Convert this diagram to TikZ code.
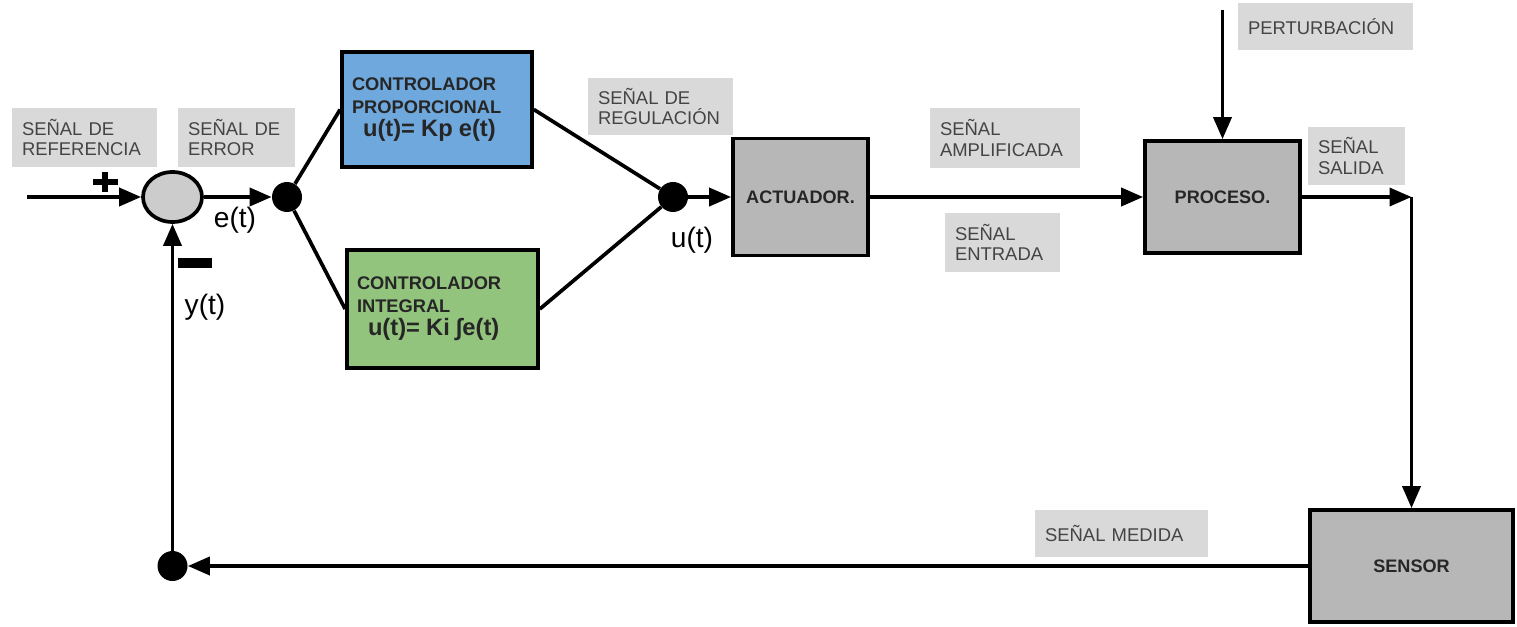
\documentclass[tikz,border=0pt]{standalone}
\usepackage{fontspec}
\setmainfont{Liberation Sans}
\usetikzlibrary{arrows.meta,shapes.geometric}

\definecolor{propblue}{RGB}{111,168,220}
\definecolor{intgreen}{RGB}{147,196,125}
\definecolor{blockgray}{RGB}{183,183,183}
\definecolor{sumgray}{RGB}{204,204,204}
\definecolor{taggray}{RGB}{217,217,217}
\definecolor{tagtext}{RGB}{68,68,68}

\tikzset{
  wire/.style={line width=2.1pt},
  sig/.style={line width=2.1pt,-{Triangle[length=0.44cm,width=0.36cm]}},
  block/.style={draw,line width=2.1pt,fill=blockgray,text=black!85,
    font=\fontsize{10.3}{12}\selectfont\bfseries},
  ctrl/.style={draw,line width=2.1pt,align=left,inner sep=0.2cm,text=black!85,
    font=\fontsize{10.4}{13.2}\selectfont\bfseries},
  tag/.style={fill=taggray,text=tagtext,align=left,inner sep=0.2cm,
    font=\fontsize{10.5}{11.4}\selectfont},
  dot/.style={circle,fill,inner sep=0pt,minimum size=0.6cm},
  var/.style={font=\fontsize{16}{16}\selectfont}
}

\begin{document}
\begin{tikzpicture}
\useasboundingbox (0,0) rectangle (30.34,12.52);

% bloques
\node[draw,ellipse,fill=sumgray,line width=2.1pt,minimum width=1.18cm,minimum height=1.0cm] (sum) at (3.45,8.58) {};
\node[dot] (pt1) at (5.74,8.58) {};
\node[ctrl,fill=propblue,text width=3.4cm,minimum height=2.3cm] (prop) at (8.74,10.33)
  {CONTROLADOR\\PROPORCIONAL\\\hspace*{0.22cm}{\fontsize{13.5}{13}\selectfont u(t)= Kp e(t)}};
\node[ctrl,fill=intgreen,text width=3.42cm,minimum height=2.36cm] (integ) at (8.85,6.34)
  {CONTROLADOR\\INTEGRAL\\\hspace*{0.22cm}{\fontsize{13.5}{13}\selectfont u(t)= Ki ∫e(t)}};
\node[dot] (pt2) at (13.46,8.58) {};
\node[block,minimum width=2.7cm,minimum height=2.34cm] (act) at (16.01,8.58) {ACTUADOR.};
\node[block,minimum width=3.1cm,minimum height=2.24cm] (proc) at (24.45,8.58) {PROCESO.};
\node[block,minimum width=4.06cm,minimum height=2.24cm] (sens) at (28.23,1.2) {SENSOR};
\node[dot] (pt3) at (3.45,1.2) {};

\coordinate (ref) at (0.54,8.58);
\coordinate (pert) at (24.45,12.32);
\coordinate (corner) at (28.23,8.58);

% etiquetas
\node[tag,text width=2.5cm,minimum height=1.18cm] (tref) at (1.69,9.77) {SEÑAL DE\\REFERENCIA};
\node[tag,text width=1.94cm,minimum height=1.18cm] (terr) at (4.73,9.77) {SEÑAL DE\\ERROR};
\node[tag,text width=2.5cm,minimum height=1.14cm] (treg) at (13.21,10.39) {SEÑAL DE\\REGULACIÓN};
\node[tag,text width=2.6cm,minimum height=1.2cm] (tamp) at (20.1,9.76) {SEÑAL\\AMPLIFICADA};
\node[tag,text width=1.9cm,minimum height=1.18cm] (tent) at (20.05,7.67) {SEÑAL\\ENTRADA};
\node[tag,text width=3.1cm,minimum height=0.94cm] (tpert) at (26.51,11.99) {PERTURBACIÓN};
\node[tag,text width=1.54cm,minimum height=1.16cm] (tsal) at (27.13,9.4) {SEÑAL\\SALIDA};
\node[tag,text width=3.06cm,minimum height=0.94cm] (tmed) at (22.43,1.85) {SEÑAL MEDIDA};

\node[var] (et) at (4.7,8.12) {e(t)};
\node[var] (ut) at (13.84,7.72) {u(t)};
\node[var] (yt) at (4.1,6.38) {y(t)};

% signos del sumador
\fill (1.85,8.815) rectangle (2.35,8.945);
\fill (2.035,8.68) rectangle (2.165,9.08);
\fill (3.56,7.16) rectangle (4.24,7.36);

% conexiones
\draw[sig] (ref) -- (sum);
\draw[sig] (sum) -- (pt1);
\draw[wire] (pt1) -- (prop.west);
\draw[wire] (pt1) -- (integ.west);
\draw[wire] (prop.east) -- (pt2);
\draw[wire] (integ.east) -- (pt2);
\draw[sig] (pt2) -- (act);
\draw[sig] (act) -- (proc);
\draw[sig] (pert) -- (proc);
\draw[sig] (proc) -- (corner);
\draw[sig] (corner) -- (sens);
\draw[sig] (sens) -- (pt3);
\draw[sig] (pt3) -- (sum);

\end{tikzpicture}
\end{document}
